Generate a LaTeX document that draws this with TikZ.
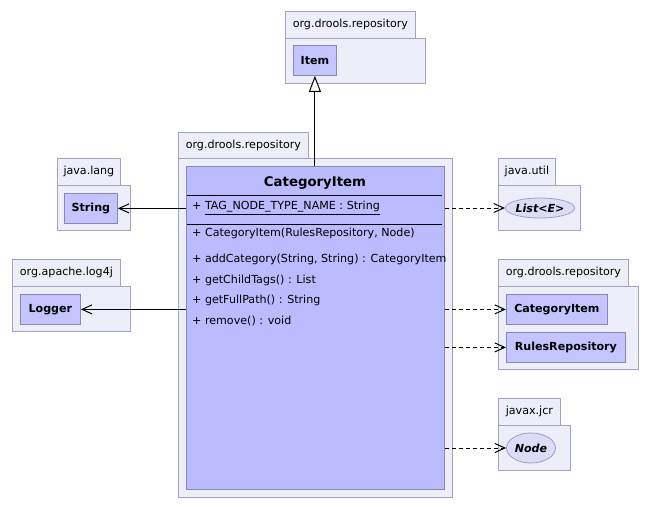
\documentclass[tikz,border=0pt]{standalone}
\usepackage{fontspec}
\setmainfont{DejaVu Sans}
\usetikzlibrary{arrows.meta,shapes.geometric}
\definecolor{pkgfill}{HTML}{EEEEFA}
\definecolor{pkgdraw}{HTML}{A4A4B8}
\definecolor{clsfill}{HTML}{BBBBFF}
\definecolor{smallfill}{HTML}{C4C4FF}
\definecolor{clsdraw}{HTML}{8888B0}
\definecolor{ellfill}{HTML}{DCDCF6}
\definecolor{elldraw}{HTML}{A0A0C0}
\tikzset{
  pkgtab/.style={draw=pkgdraw, fill=pkgfill, line width=0.8pt, inner sep=0pt, anchor=north west,
    font=\fontsize{11.1}{13}\selectfont},
  pkgbody/.style={draw=pkgdraw, fill=pkgfill, line width=0.8pt, inner sep=0pt, anchor=north west},
  smallcls/.style={draw=clsdraw, fill=smallfill, line width=0.8pt, inner sep=0pt, anchor=north west,
    font=\fontsize{11.1}{13}\selectfont\bfseries},
  iface/.style={ellipse, draw=elldraw, fill=ellfill, line width=0.8pt, inner sep=0pt,
    font=\fontsize{11.1}{13}\selectfont\bfseries\itshape},
  mbr/.style={anchor=west, inner sep=0pt, font=\fontsize{11.1}{13}\selectfont},
  assoc/.style={line width=1pt, -{Straight Barb[length=10pt,width=9pt,line width=1pt]}},
  dep/.style={line width=1pt, dash pattern=on 4pt off 3pt, -{Straight Barb[length=10pt,width=9pt,line width=1pt]}},
  gen/.style={line width=1pt, -{Triangle[open, length=16pt, width=12pt, fill=white, line width=1pt]}},
}
\begin{document}
\begin{tikzpicture}[x=1pt,y=-1pt]
\useasboundingbox[fill=white] (0,0) rectangle (653,509);

% top package org.drools.repository (Item)
\node[pkgtab, minimum width=130pt, minimum height=27pt] (p1t) at (285,11) {org.drools.repository};
\node[pkgbody, minimum width=140pt, minimum height=45pt] (p1) at (285,38) {};
\node[smallcls, minimum width=43pt, minimum height=30pt] (item) at (293,45) {Item};

% main package
\node[pkgtab, minimum width=130pt, minimum height=26pt] (p2t) at (178,132) {org.drools.repository};
\node[pkgbody, minimum width=274pt, minimum height=339pt] (p2) at (178,158) {};
\node[draw=clsdraw, fill=clsfill, line width=0.8pt, anchor=north west, minimum width=258pt, minimum height=323pt, inner sep=0pt] (ci) at (186,166) {};
\node[inner sep=0pt, font=\fontsize{13.3}{15}\selectfont\bfseries] (citl) at (315,183) {CategoryItem};
\draw[line width=1pt] (187,195) -- (442,195);
\draw[line width=1pt] (187,224) -- (442,224);
\node[mbr] (a1) at (192,208) {+ \underline{TAG\_NODE\_TYPE\_NAME : String}};
\node[mbr] (m1) at (192,233) {+ CategoryItem(RulesRepository, Node)};
\node[mbr] (m2) at (192,259) {+ addCategory(String, String) : CategoryItem};
\node[mbr] (m3) at (192,280) {+ getChildTags() : List};
\node[mbr] (m4) at (192,300) {+ getFullPath() : String};
\node[mbr] (m5) at (192,321) {+ remove() : void};

% java.lang
\node[pkgtab, minimum width=63pt, minimum height=27pt] (p3t) at (57,158) {java.lang};
\node[pkgbody, minimum width=73pt, minimum height=45pt] (p3) at (57,185) {};
\node[smallcls, minimum width=53pt, minimum height=30pt] (str) at (64,193) {String};

% org.apache.log4j
\node[pkgtab, minimum width=108pt, minimum height=27pt] (p4t) at (12,259) {org.apache.log4j};
\node[pkgbody, minimum width=118pt, minimum height=45pt] (p4) at (12,286) {};
\node[smallcls, minimum width=60pt, minimum height=30pt] (log) at (20,294) {Logger};

% java.util
\node[pkgtab, minimum width=57pt, minimum height=27pt] (p5t) at (498,158) {java.util};
\node[pkgbody, minimum width=82pt, minimum height=45pt] (p5) at (498,185) {};
\node[iface, minimum width=66pt, minimum height=20pt] (lst) at (540,208) {List<E>};

% org.drools.repository (right)
\node[pkgtab, minimum width=130pt, minimum height=27pt] (p6t) at (498,259) {org.drools.repository};
\node[pkgbody, minimum width=140pt, minimum height=83pt] (p6) at (498,286) {};
\node[smallcls, minimum width=101pt, minimum height=30pt] (ci2) at (506,294) {CategoryItem};
\node[smallcls, minimum width=119pt, minimum height=30pt] (rr) at (506,332) {RulesRepository};

% javax.jcr
\node[pkgtab, minimum width=62pt, minimum height=27pt] (p7t) at (498,398) {javax.jcr};
\node[pkgbody, minimum width=72pt, minimum height=45pt] (p7) at (498,425) {};
\node[iface, minimum width=49pt, minimum height=30pt] (nd) at (531,448) {Node};

% connectors
\draw[gen] (ci.north -| item.south) -- (item.south);
\draw[assoc] (ci.west |- str.east) -- (str.east);
\draw[assoc] (ci.west |- log.east) -- (log.east);
\draw[dep] (ci.east |- lst.west) -- (lst.west);
\draw[dep] (ci.east |- ci2.west) -- (ci2.west);
\draw[dep] (ci.east |- rr.west) -- (rr.west);
\draw[dep] (ci.east |- nd.west) -- (nd.west);
\end{tikzpicture}
\end{document}
